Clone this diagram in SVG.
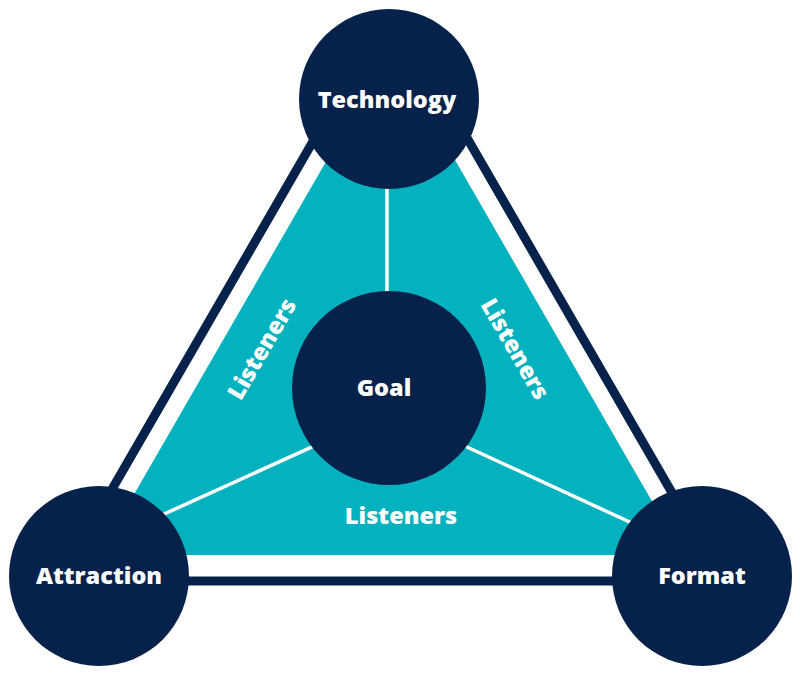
<svg xmlns="http://www.w3.org/2000/svg" width="800" height="685" viewBox="0 0 800 685">
<style>
.node{fill:#07224a}
.lbl{fill:#ffffff;font-family:"Open Sans","Liberation Sans",sans-serif;font-weight:800;font-size:23.5px;text-anchor:middle}
.div{stroke:#ffffff;stroke-width:3.5;fill:none}
</style>
<rect width="800" height="685" fill="#ffffff"/>
<g id="frame">
<path d="M360,60 L59,581 L723,581 L422,60" fill="none" stroke="#07224a" stroke-width="9" stroke-linejoin="miter"/>
<polygon points="391,49 99,555 683,555" fill="#03b2be"/>
</g>
<g id="connectors">
<line class="div" x1="387" y1="150" x2="387" y2="330"/>
<line class="div" x1="389" y1="412" x2="140" y2="525"/>
<line class="div" x1="389" y1="411" x2="660" y2="536"/>
</g>
<g id="sector-labels">
<text class="lbl" x="401" y="524">Listeners</text>
<text class="lbl" transform="translate(262,349) rotate(-60)" y="8">Listeners</text>
<text class="lbl" transform="translate(515,349) rotate(60)" y="8">Listeners</text>
</g>
<g id="technology">
<circle class="node" cx="389" cy="99" r="90"/>
<text class="lbl" x="387" y="108">Technology</text>
</g>
<g id="attraction">
<circle class="node" cx="99" cy="576" r="90"/>
<text class="lbl" x="99" y="584">Attraction</text>
</g>
<g id="format">
<circle class="node" cx="702" cy="576" r="90"/>
<text class="lbl" x="702" y="584">Format</text>
</g>
<g id="goal">
<circle class="node" cx="389" cy="388" r="97"/>
<text class="lbl" x="384" y="396">Goal</text>
</g>
</svg>
